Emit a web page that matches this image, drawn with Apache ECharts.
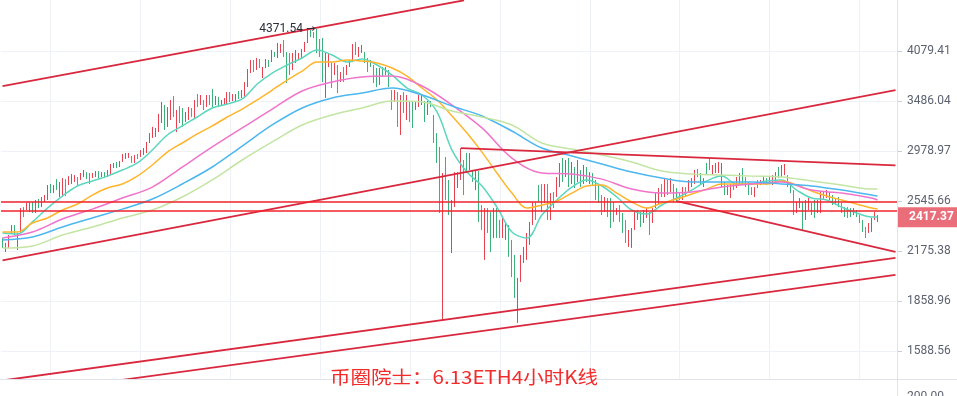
<!DOCTYPE html>
<html><head><meta charset="utf-8">
<script src="https://cdn.jsdelivr.net/npm/echarts@6/dist/echarts.min.js"></script>
<style>html,body{margin:0;padding:0;background:#fff}#c{width:957px;height:396px}</style>
</head><body><div id="c"></div>
<script>
// ---- 4h candles (ETH) ----
const opens = [
2265,2167,2195,2301,2359,2181,2301,2496,2473,2457,
2536,2450,2560,2496,2536,2552,2684,2608,2725,2576,
2576,2725,2675,2684,2701,2743,2718,2743,2786,2778,
2734,2743,2795,2743,2786,2743,2760,2822,2876,2831,
2876,2903,2912,2931,2867,2949,2922,2940,2958,3053,
3102,3112,3160,3251,3440,3211,3282,3539,3160,3429,
3408,3261,3282,3408,3303,3561,3440,3495,3418,3550,
3617,3440,3528,3429,3440,3440,3583,3484,3473,3595,
3517,3528,3640,3804,3963,3840,3975,3745,3864,3963,
3938,4064,3988,4052,4220,4064,4052,3840,3926,3963,
3988,4064,4181,4355,4328,4350,4234,4247,3517,3877,
3938,3780,3901,3698,3877,3780,3877,3938,4194,4001,
4052,4064,3988,3963,3901,3864,3663,3877,3780,3840,
3606,3473,3583,3131,3583,3282,3484,3473,3387,3418,
3440,3484,3334,3484,3334,3150,3015,2450,2922,2718,
2160,2496,2650,2718,2894,2958,2804,2804,2633,2795,
2512,2114,2488,2457,2265,2488,2397,2265,2251,2359,
2251,2147,1734,1973,2094,2114,2216,2359,2536,2675,
2684,2528,2684,2397,2617,2576,2658,2912,2743,2912,
2684,2831,2701,2804,2684,2831,2684,2778,2718,2675,
2592,2457,2568,2568,2536,2434,2512,2450,2397,2202,
2195,2323,2397,2457,2374,2412,2457,2374,2488,2512,
2684,2576,2718,2617,2684,2650,2608,2552,2658,2617,
2658,2684,2813,2778,2658,2867,2912,2760,2778,2778,
2658,2701,2592,2568,2701,2650,2684,2822,2743,2701,
2658,2576,2718,2675,2684,2734,2684,2675,2701,2831,
2743,2760,2760,2675,2633,2450,2488,2536,2397,2473,
2528,2552,2450,2450,2617,2568,2552,2592,2568,2576,
2528,2496,2496,2488,2434,2473,2434,2397,2344,2301,
2308,2397,2382
];
const closes = [
2195,2230,2286,2359,2286,2301,2488,2419,2528,2536,
2450,2552,2488,2576,2592,2675,2608,2675,2633,2701,
2734,2584,2751,2769,2760,2675,2778,2804,2725,2684,
2778,2795,2734,2786,2743,2804,2858,2867,2822,2885,
2949,2958,2958,2867,2940,2903,2986,3005,3063,3150,
3211,3201,3345,3473,3180,3418,3495,3313,3387,3251,
3211,3366,3418,3313,3495,3418,3550,3387,3550,3440,
3418,3539,3418,3495,3517,3583,3473,3561,3561,3506,
3606,3698,3852,3963,3816,3988,3864,3877,3975,3877,
4090,4001,4181,4168,4001,3686,3780,4052,4090,4052,
4103,4194,4355,4260,4247,4064,4001,3698,4052,4052,
3629,3926,3572,3816,3698,3901,3963,4168,4026,4129,
4155,3926,3816,3877,3686,3640,3864,3757,3877,3640,
3387,3606,3211,3550,3355,3550,3261,3201,3473,3550,
3550,3261,3484,3418,3053,2867,2450,2760,2552,2434,
2552,2786,2786,3005,2592,2778,2958,2701,2804,2382,
2323,2488,2301,2167,2488,2265,2265,2412,2382,2134,
2003,1876,1998,2147,2202,2301,2382,2536,2397,2536,
2457,2684,2397,2608,2488,2743,2867,2701,2894,2658,
2876,2650,2894,2658,2849,2701,2786,2675,2552,2528,
2434,2576,2419,2337,2382,2488,2382,2301,2230,2323,
2337,2473,2473,2344,2473,2488,2286,2488,2608,2650,
2576,2734,2592,2734,2536,2536,2552,2658,2576,2718,
2734,2804,2743,2675,2734,2760,2804,2849,2867,2876,
2867,2592,2675,2684,2633,2743,2778,2675,2658,2592,
2592,2658,2650,2718,2743,2675,2743,2760,2786,2734,
2849,2858,2658,2608,2434,2536,2568,2323,2552,2568,
2434,2412,2552,2617,2552,2633,2617,2512,2512,2496,
2450,2419,2412,2419,2488,2419,2374,2308,2265,2374,
2412,2457,2417.37
];
const lows = [
2195,2167,2195,2301,2286,2181,2301,2419,2473,2457,
2450,2450,2488,2496,2536,2552,2608,2608,2633,2576,
2576,2584,2675,2684,2701,2675,2718,2743,2725,2684,
2734,2743,2734,2743,2743,2743,2760,2822,2822,2831,
2876,2903,2912,2867,2867,2903,2922,2940,2958,3053,
3102,3112,3160,3251,3180,3211,3282,3313,3160,3251,
3211,3261,3282,3313,3303,3418,3440,3387,3418,3440,
3418,3440,3418,3429,3440,3440,3473,3484,3473,3506,
3517,3528,3640,3804,3816,3840,3864,3745,3864,3877,
3938,4001,3988,4052,4001,3686,3780,3840,3926,3963,
3988,4064,4181,4260,4247,4050,4001,3698,3517,3877,
3629,3780,3572,3698,3698,3780,3877,3938,4026,4001,
4052,3926,3816,3877,3686,3640,3663,3757,3780,3640,
3387,3473,3211,3131,3355,3282,3261,3201,3387,3418,
3440,3261,3334,3418,3053,2867,2450,1745,2552,2434,
2160,2496,2650,2718,2592,2778,2804,2701,2633,2382,
2323,2114,2301,2167,2265,2265,2265,2265,2251,2134,
2003,1876,1734,1973,2094,2114,2216,2359,2397,2536,
2457,2528,2397,2397,2488,2576,2658,2701,2743,2658,
2684,2650,2701,2658,2684,2701,2684,2675,2552,2528,
2434,2457,2419,2337,2382,2434,2382,2301,2230,2202,
2195,2323,2397,2344,2374,2412,2286,2374,2488,2512,
2576,2576,2592,2617,2536,2536,2552,2552,2576,2617,
2658,2684,2743,2675,2658,2760,2804,2760,2778,2778,
2658,2592,2592,2568,2633,2650,2684,2675,2658,2592,
2592,2576,2650,2675,2684,2675,2684,2675,2701,2734,
2743,2760,2658,2608,2434,2450,2488,2323,2397,2473,
2434,2412,2450,2450,2552,2568,2552,2512,2512,2496,
2450,2419,2412,2419,2434,2419,2374,2308,2265,2301,
2308,2397,2382
];
const highs = [
2265,2230,2286,2359,2359,2301,2488,2496,2528,2536,
2536,2552,2560,2576,2592,2675,2684,2675,2725,2701,
2734,2725,2751,2769,2760,2743,2778,2804,2786,2778,
2778,2795,2795,2786,2786,2804,2858,2867,2876,2885,
2949,2958,2958,2931,2940,2949,2986,3005,3063,3150,
3211,3201,3345,3473,3440,3418,3495,3539,3387,3429,
3408,3366,3418,3408,3495,3561,3550,3495,3550,3550,
3617,3539,3528,3495,3517,3583,3583,3561,3561,3595,
3606,3698,3852,3963,3963,3988,3975,3877,3975,3963,
4090,4064,4181,4168,4220,4064,4052,4052,4090,4052,
4103,4194,4355,4355,4328,4371.54,4234,4247,4052,4052,
3938,3926,3901,3816,3877,3901,3963,4168,4194,4129,
4155,4064,3988,3963,3901,3864,3864,3877,3877,3840,
3606,3606,3583,3550,3583,3550,3484,3473,3473,3550,
3550,3484,3484,3484,3334,3150,3015,2778,2922,2718,
2552,2786,2786,3005,2894,2958,2958,2804,2804,2795,
2512,2488,2488,2457,2488,2488,2397,2412,2382,2359,
2251,2147,1998,2147,2202,2301,2382,2536,2536,2675,
2684,2684,2684,2608,2617,2743,2867,2912,2894,2912,
2876,2831,2894,2804,2849,2831,2786,2778,2718,2675,
2592,2576,2568,2568,2536,2488,2512,2450,2397,2323,
2337,2473,2473,2457,2473,2488,2457,2488,2608,2650,
2684,2734,2718,2734,2684,2650,2608,2658,2658,2718,
2734,2804,2813,2778,2734,2867,2912,2849,2867,2876,
2867,2701,2675,2684,2701,2743,2778,2822,2743,2701,
2658,2658,2718,2718,2743,2734,2743,2760,2786,2831,
2849,2858,2760,2675,2633,2536,2568,2536,2552,2568,
2528,2552,2552,2617,2617,2633,2617,2592,2568,2576,
2528,2496,2496,2488,2488,2473,2434,2397,2344,2374,
2412,2457,2434
];

// ---- moving averages (fast: every 5 candles, slow: every 10; last value = last candle) ----
const maTeal = [
2301,2294,2382,2488,2584,2667,2709,2751,2804,2867,
2986,3131,3221,3313,3408,3451,3506,3675,3804,3901,
3988,4090,4026,3938,3975,3901,3780,3629,3550,3366,
2986,2786,2667,2496,2308,2265,2434,2552,2658,2718,
2667,2576,2473,2442,2512,2568,2633,2709,2751,2684,
2684,2709,2718,2633,2568,2552,2496,2450,2419,2419];
const maOrange = [
2308,2308,2374,2412,2473,2520,2592,2650,2684,2751,
2849,2967,3053,3141,3221,3313,3397,3495,3606,3721,
3828,3938,3938,3963,3950,3926,3864,3768,3629,3495,
3324,3150,2967,2778,2608,2488,2512,2544,2608,2667,
2675,2608,2536,2488,2528,2560,2600,2641,2684,2684,
2684,2684,2709,2675,2625,2584,2552,2520,2488,2480];
const maPink = [
2265,2308,2404,2480,2568,2658,2831,3015,3201,3397,
3595,3698,3757,3768,3652,3440,3201,2912,2778,2769,
2725,2641,2608,2617,2658,2684,2701,2633,2608,2568,2552];
const maBlue = [
2251,2272,2344,2412,2480,2560,2684,2831,3024,3231,
3408,3517,3572,3629,3550,3429,3324,3170,3005,2931,
2858,2786,2734,2701,2701,2701,2684,2667,2633,2592,2584];
const maGreen = [
2195,2209,2286,2344,2412,2473,2576,2718,2894,3063,
3231,3334,3408,3484,3473,3376,3313,3231,3053,2995,
2940,2876,2795,2769,2760,2751,2743,2709,2675,2641,2641];

// ---- drawn lines: [candle index, price] pairs ----
const trendLines = [
  [[0,3650],[154,4781]],
  [[0,2111],[298,3605]],
  [[153,3005],[298,2845]],
  [[225,2543],[298,2168]],
  [[0,1447],[298,2127]],
  [[40,1450],[298,2017]]
];
const supportLevels = [2538, 2471];
const lastPrice = 2417.37;
const yTicks = [1588.56,1858.96,2175.38,2545.66,2978.97,3486.04,4079.41];
const timeGridIdx = [16,46,76,106,136,166,196,226,256,286];
const SLOTS = 299;
const categories = Array.from({length: SLOTS}, (_, i) => {
  const d = new Date(Date.UTC(2021, 3, 25, 0) + i * 4 * 3600 * 1000);
  return (d.getUTCMonth() + 1) + '/' + d.getUTCDate() + ' ' + String(d.getUTCHours()).padStart(2, '0') + ':00';
});

const lastIdx = opens.length - 1;
function samplePairs(vals, step) {
  return vals.map((v, k) => [k === vals.length - 1 ? lastIdx : k * step, v]);
}
const candleData = opens.map((o, i) => [o, closes[i], lows[i], highs[i]]);

const UP = '#e8414f', DOWN = '#3cb17a';
function maSeries(name, vals, step, color) {
  return {name, type: 'line', data: samplePairs(vals, step), smooth: 0.35, symbol: 'none', silent: true,
    z: 3, lineStyle: {color, width: 1.5}};
}

const chart = echarts.init(document.getElementById('c'), null, {renderer: 'canvas'});
chart.setOption({
  animation: false,
  backgroundColor: '#ffffff',
  grid: {left: 1, right: 60, top: 0, bottom: 17, containLabel: false},
  xAxis: {type: 'category', data: categories, boundaryGap: true,
    axisLine: {show: false}, axisTick: {show: false}, axisLabel: {show: false}, splitLine: {show: false}},
  yAxis: {type: 'log', position: 'right', min: 1453.8, max: 4785.8,
    axisLine: {show: false},
    axisTick: {show: true, customValues: yTicks, length: 5, lineStyle: {color: '#c9ccd4'}},
    axisLabel: {show: true, customValues: yTicks, margin: 10, color: '#5d6270', fontSize: 12, fontFamily: 'Roboto',
      formatter: v => Number(v).toFixed(2)},
    splitLine: {show: false}},
  series: [
    {type: 'line', data: [], silent: true, z: 0,
      markLine: {silent: true, z: 0, symbol: ['none', 'none'], animation: false, label: {show: false},
        lineStyle: {color: '#eef1f7', width: 1, type: 'solid'},
        data: yTicks.map(v => ({yAxis: v})).concat(timeGridIdx.map(i => ({xAxis: i})))}},
    {type: 'candlestick', data: candleData, barWidth: 1, z: 2,
      itemStyle: {color: UP, color0: DOWN, borderColor: UP, borderColor0: DOWN, borderWidth: 1},
      markPoint: {symbol: 'circle', symbolSize: 0, silent: true,
        data: [{type: 'max', valueDim: 'highest'}],
        label: {show: true, position: 'left', distance: 2, color: '#2a2e39', fontSize: 12, fontFamily: 'Roboto',
          formatter: p => Number(p.value).toFixed(2) + ' {a|→}',
          rich: {a: {fontFamily: 'DejaVu Sans', fontSize: 11, color: '#2a2e39'}}}}},
    maSeries('MA5', maTeal, 5, '#5cd6bf'),
    maSeries('MA10', maOrange, 5, '#ffb52b'),
    maSeries('MA20', maPink, 10, '#f074cb'),
    maSeries('MA30', maBlue, 10, '#4db7ef'),
    maSeries('MA60', maGreen, 10, '#c3e5a3'),
    ...trendLines.map(tl => ({type: 'line', data: tl, symbol: 'none', silent: true, z: 4, clip: true,
      lineStyle: {color: '#d9283e', width: 1.8}})),
    {type: 'line', data: [], silent: true, z: 4,
      markLine: {silent: true, symbol: ['none', 'none'], animation: false, label: {show: false},
        lineStyle: {color: '#f2232b', width: 1.5, type: 'solid'},
        data: supportLevels.map(v => ({yAxis: v}))}},
    {type: 'line', data: [], silent: true, z: 6,
      markLine: {silent: true, symbol: ['none', 'none'], animation: false, z: 10,
        lineStyle: {color: 'rgba(0,0,0,0)', width: 0},
        data: [{yAxis: lastPrice}],
        label: {show: true, position: 'end', distance: 0, formatter: p => Number(p.value).toFixed(2),
          backgroundColor: '#ea6e79', color: '#ffffff', fontWeight: 'bold', fontSize: 12, fontFamily: 'Roboto',
          padding: [4, 8, 4, 12], lineHeight: 12}}}
  ],
  graphic: [
    {type: 'line', silent: true, z: 50, shape: {x1: 897.5, y1: 0, x2: 897.5, y2: 396}, style: {stroke: '#e0e3eb', lineWidth: 1}},
    {type: 'line', silent: true, z: 50, shape: {x1: 0, y1: 379.5, x2: 957, y2: 379.5}, style: {stroke: '#e0e3eb', lineWidth: 1}},
    {type: 'text', silent: true, z: 60, x: 907, y: 391,
      style: {text: '200.00', fill: '#5d6270', font: '12px Roboto', align: 'left', verticalAlign: 'top'}},
    {type: 'text', silent: true, z: 100, x: 464, y: 377, scaleX: 1.14,
      style: {text: '币圈院士：6.13ETH4小时K线', fill: '#f32b2b', font: '18px "Noto Sans CJK SC"',
        align: 'center', verticalAlign: 'middle'}}
  ]
});
</script></body></html>
